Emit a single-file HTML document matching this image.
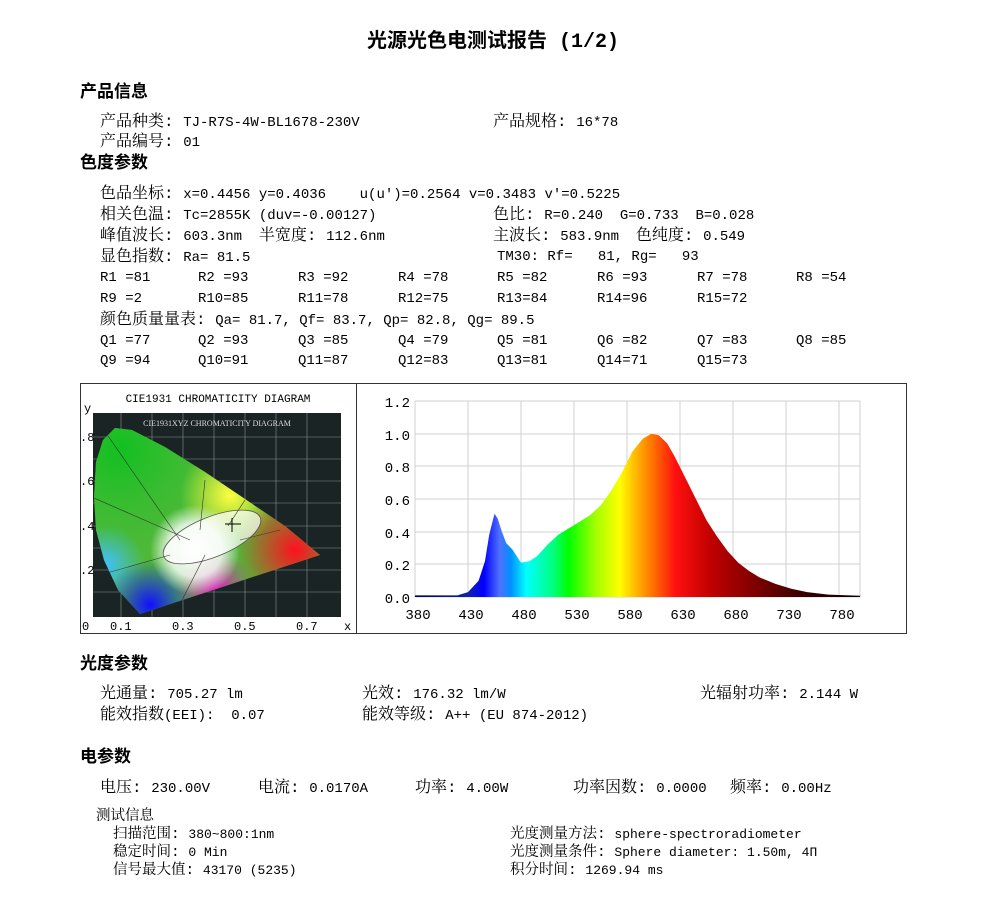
<!DOCTYPE html>
<html><head><meta charset="utf-8">
<style>
body{margin:0;background:#fff;width:986px;height:913px;position:relative;overflow:hidden;font-family:"Liberation Mono","Noto Serif CJK SC","Noto Sans CJK SC",monospace;font-size:14px;color:#000}
.t{position:absolute;white-space:pre;line-height:16px}
.t b{font-weight:normal;font-size:16px}
.h{position:absolute;white-space:pre;font-family:"Liberation Sans","Noto Sans CJK SC",sans-serif;font-weight:bold;font-size:17px;line-height:20px}
.s{font-size:13px}
.s b{font-size:14.5px}
</style></head><body>
<div class="h" style="left:0;width:986px;text-align:center;top:33px;font-size:20px;font-family:'Liberation Mono','Noto Sans CJK SC',monospace">光源光色电测试报告 (1/2)</div>

<div class="h" style="left:80px;top:82px">产品信息</div>
<div class="t" style="left:100px;top:114px"><b>产品种类: </b>TJ-R7S-4W-BL1678-230V</div>
<div class="t" style="left:493px;top:114px"><b>产品规格: </b>16*78</div>
<div class="t" style="left:100px;top:134px"><b>产品编号: </b>01</div>
<div class="h" style="left:80px;top:153px">色度参数</div>
<div class="t" style="left:100px;top:186px"><b>色品坐标: </b>x=0.4456 y=0.4036    u(u')=0.2564 v=0.3483 v'=0.5225</div>
<div class="t" style="left:100px;top:207px"><b>相关色温: </b>Tc=2855K (duv=-0.00127)</div>
<div class="t" style="left:493px;top:207px"><b>色比: </b>R=0.240  G=0.733  B=0.028</div>
<div class="t" style="left:100px;top:228px"><b>峰值波长: </b>603.3nm  <b>半宽度: </b>112.6nm</div>
<div class="t" style="left:493px;top:228px"><b>主波长: </b>583.9nm  <b>色纯度: </b>0.549</div>
<div class="t" style="left:100px;top:249px"><b>显色指数: </b>Ra= 81.5</div>
<div class="t" style="left:497px;top:249px">TM30: Rf=   81, Rg=   93</div>
<div class="t" style="left:100px;top:270px">R1 =81</div><div class="t" style="left:198px;top:270px">R2 =93</div><div class="t" style="left:298px;top:270px">R3 =92</div><div class="t" style="left:398px;top:270px">R4 =78</div><div class="t" style="left:497px;top:270px">R5 =82</div><div class="t" style="left:597px;top:270px">R6 =93</div><div class="t" style="left:697px;top:270px">R7 =78</div><div class="t" style="left:796px;top:270px">R8 =54</div>
<div class="t" style="left:100px;top:291px">R9 =2</div><div class="t" style="left:198px;top:291px">R10=85</div><div class="t" style="left:298px;top:291px">R11=78</div><div class="t" style="left:398px;top:291px">R12=75</div><div class="t" style="left:497px;top:291px">R13=84</div><div class="t" style="left:597px;top:291px">R14=96</div><div class="t" style="left:697px;top:291px">R15=72</div>
<div class="t" style="left:100px;top:312px"><b>颜色质量量表: </b>Qa= 81.7, Qf= 83.7, Qp= 82.8, Qg= 89.5</div>
<div class="t" style="left:100px;top:333px">Q1 =77</div><div class="t" style="left:198px;top:333px">Q2 =93</div><div class="t" style="left:298px;top:333px">Q3 =85</div><div class="t" style="left:398px;top:333px">Q4 =79</div><div class="t" style="left:497px;top:333px">Q5 =81</div><div class="t" style="left:597px;top:333px">Q6 =82</div><div class="t" style="left:697px;top:333px">Q7 =83</div><div class="t" style="left:796px;top:333px">Q8 =85</div>
<div class="t" style="left:100px;top:353px">Q9 =94</div><div class="t" style="left:198px;top:353px">Q10=91</div><div class="t" style="left:298px;top:353px">Q11=87</div><div class="t" style="left:398px;top:353px">Q12=83</div><div class="t" style="left:497px;top:353px">Q13=81</div><div class="t" style="left:597px;top:353px">Q14=71</div><div class="t" style="left:697px;top:353px">Q15=73</div>

<svg style="position:absolute;left:0;top:0" width="986" height="913" font-family="'Liberation Mono',monospace">
<defs>
<clipPath id="hs"><path d="M140,614 L118,590 L104,560 L96,530 L94,497 L96,462 L103,440 L115,428 L132,430 L165,447 L205,472 L245,499 L285,526 L320,555 Z"/></clipPath>
<radialGradient id="g1" cx="120" cy="450" r="110" gradientUnits="userSpaceOnUse"><stop offset="0" stop-color="#10c020"/><stop offset="1" stop-color="#30c030" stop-opacity="0"/></radialGradient>
<radialGradient id="gy" cx="230" cy="495" r="50" gradientUnits="userSpaceOnUse"><stop offset="0" stop-color="#ffff40"/><stop offset="1" stop-color="#ffff40" stop-opacity="0"/></radialGradient>
<radialGradient id="gr" cx="295" cy="550" r="60" gradientUnits="userSpaceOnUse"><stop offset="0" stop-color="#ff1020"/><stop offset="1" stop-color="#ff1020" stop-opacity="0"/></radialGradient>
<radialGradient id="gb" cx="150" cy="605" r="45" gradientUnits="userSpaceOnUse"><stop offset="0" stop-color="#1010ff"/><stop offset="1" stop-color="#1010ff" stop-opacity="0"/></radialGradient>
<radialGradient id="gc" cx="105" cy="565" r="40" gradientUnits="userSpaceOnUse"><stop offset="0" stop-color="#40c0ff"/><stop offset="1" stop-color="#40c0ff" stop-opacity="0"/></radialGradient>
<radialGradient id="gm" cx="215" cy="590" r="40" gradientUnits="userSpaceOnUse"><stop offset="0" stop-color="#e020c0"/><stop offset="1" stop-color="#e020c0" stop-opacity="0"/></radialGradient>
<radialGradient id="gw" cx="195" cy="550" r="45" gradientUnits="userSpaceOnUse"><stop offset="0" stop-color="#fff"/><stop offset="0.6" stop-color="#fff" stop-opacity="0.8"/><stop offset="1" stop-color="#fff" stop-opacity="0"/></radialGradient>
<linearGradient id="sp" x1="415" y1="0" x2="860" y2="0" gradientUnits="userSpaceOnUse">
<stop offset="0" stop-color="#000060"/><stop offset="0.12" stop-color="#1020b0"/><stop offset="0.155" stop-color="#0000ff"/><stop offset="0.19" stop-color="#5070ff"/><stop offset="0.215" stop-color="#0090ff"/><stop offset="0.25" stop-color="#00ffff"/><stop offset="0.31" stop-color="#00ff80"/><stop offset="0.345" stop-color="#00ff00"/><stop offset="0.405" stop-color="#a0ff00"/><stop offset="0.46" stop-color="#ffff00"/><stop offset="0.5" stop-color="#ffb000"/><stop offset="0.535" stop-color="#ff7000"/><stop offset="0.585" stop-color="#ff1010"/><stop offset="0.665" stop-color="#c00000"/><stop offset="0.76" stop-color="#800000"/><stop offset="0.88" stop-color="#300000"/><stop offset="1" stop-color="#100000"/></linearGradient>
</defs>
<rect x="80.5" y="383.5" width="826" height="250" fill="none" stroke="#333"/>
<line x1="356.5" y1="383" x2="356.5" y2="634" stroke="#333"/>
<text x="218" y="402" font-size="11" text-anchor="middle">CIE1931 CHROMATICITY DIAGRAM</text>
<rect x="93" y="413" width="248" height="204" fill="#1a2424"/>
<g stroke="#8a9090" stroke-width="0.6">
<line x1="121" y1="413" x2="121" y2="617"/><line x1="152" y1="413" x2="152" y2="617"/><line x1="183" y1="413" x2="183" y2="617"/><line x1="214" y1="413" x2="214" y2="617"/><line x1="245" y1="413" x2="245" y2="617"/><line x1="276" y1="413" x2="276" y2="617"/><line x1="307" y1="413" x2="307" y2="617"/>
<line x1="93" y1="437" x2="341" y2="437"/><line x1="93" y1="459" x2="341" y2="459"/><line x1="93" y1="481" x2="341" y2="481"/><line x1="93" y1="503" x2="341" y2="503"/><line x1="93" y1="526" x2="341" y2="526"/><line x1="93" y1="548" x2="341" y2="548"/><line x1="93" y1="570" x2="341" y2="570"/><line x1="93" y1="592" x2="341" y2="592"/>
</g>
<text x="217" y="426" font-size="8" fill="#ddd" text-anchor="middle" font-family="'Liberation Serif',serif">CIE1931XYZ CHROMATICITY DIAGRAM</text>
<g clip-path="url(#hs)">
<rect x="90" y="420" width="240" height="200" fill="#50b838"/>
<rect x="90" y="420" width="240" height="200" fill="url(#g1)"/>
<rect x="90" y="420" width="240" height="200" fill="url(#gc)"/>
<rect x="90" y="420" width="240" height="200" fill="url(#gy)"/>
<rect x="90" y="420" width="240" height="200" fill="url(#gr)"/>
<rect x="90" y="420" width="240" height="200" fill="url(#gm)"/>
<rect x="90" y="420" width="240" height="200" fill="url(#gb)"/>
<rect x="90" y="420" width="240" height="200" fill="url(#gw)"/>
<ellipse cx="212" cy="537" rx="52" ry="20" transform="rotate(-22 212 537)" fill="#fff" fill-opacity="0.7" stroke="#555" stroke-width="0.8"/>
<g stroke="#333" stroke-width="0.6" fill="none"><path d="M106,433 L180,540"/><path d="M94,498 L190,540"/><path d="M100,575 L170,555"/><path d="M205,480 L200,530"/><path d="M245,500 L228,526"/><path d="M175,614 L205,555"/><path d="M280,530 L240,540"/></g>
</g>
<line x1="232" y1="518" x2="232" y2="532" stroke="#000"/><line x1="225" y1="524" x2="241" y2="524" stroke="#000"/>
<g font-size="12"><text x="84" y="412">y</text><text x="80" y="441">.8</text><text x="80" y="485">.6</text><text x="80" y="530">.4</text><text x="80" y="574">.2</text>
<text x="82" y="630">0</text><text x="110" y="630">0.1</text><text x="172" y="630">0.3</text><text x="234" y="630">0.5</text><text x="296" y="630">0.7</text><text x="344" y="630">x</text></g>

<g stroke="#d0d0d0" stroke-width="1">
<line x1="415" y1="401" x2="860" y2="401"/><line x1="415" y1="434" x2="860" y2="434"/><line x1="415" y1="466" x2="860" y2="466"/><line x1="415" y1="499" x2="860" y2="499"/><line x1="415" y1="532" x2="860" y2="532"/><line x1="415" y1="564" x2="860" y2="564"/><line x1="415" y1="597" x2="860" y2="597"/>
<line x1="415" y1="401" x2="415" y2="597"/><line x1="468" y1="401" x2="468" y2="597"/><line x1="521" y1="401" x2="521" y2="597"/><line x1="574" y1="401" x2="574" y2="597"/><line x1="627" y1="401" x2="627" y2="597"/><line x1="680" y1="401" x2="680" y2="597"/><line x1="733" y1="401" x2="733" y2="597"/><line x1="786" y1="401" x2="786" y2="597"/><line x1="839" y1="401" x2="839" y2="597"/><line x1="860" y1="401" x2="860" y2="597"/>
</g>
<path id="curve" fill="url(#sp)" d=""/>
<g font-size="14" text-anchor="end"><text x="410" y="407">1.2</text><text x="410" y="440">1.0</text><text x="410" y="472">0.8</text><text x="410" y="505">0.6</text><text x="410" y="538">0.4</text><text x="410" y="570">0.2</text><text x="410" y="603">0.0</text></g>
<g font-size="14" text-anchor="middle"><text x="418" y="619">380</text><text x="471" y="619">430</text><text x="524" y="619">480</text><text x="577" y="619">530</text><text x="630" y="619">580</text><text x="683" y="619">630</text><text x="736" y="619">680</text><text x="789" y="619">730</text><text x="842" y="619">780</text></g>
</svg>
<script>
var p=[[380,.01],[420,.01],[430,.03],[440,.1],[446,.22],[450,.38],[455,.51],[458,.48],[462,.4],[466,.33],[472,.29],[480,.21],[488,.22],[495,.25],[505,.32],[515,.38],[525,.42],[535,.46],[545,.5],[555,.56],[565,.65],[575,.76],[585,.89],[595,.97],[603,1.0],[610,.99],[618,.94],[625,.86],[635,.73],[645,.6],[655,.47],[665,.37],[675,.28],[685,.21],[695,.16],[705,.12],[720,.08],[735,.05],[750,.03],[770,.015],[800,.008]];
var d="M415,597";p.forEach(function(q){d+=" L"+(415+(q[0]-380)*1.06).toFixed(1)+","+(597-q[1]*163.3).toFixed(1)});d+=" L860,597 Z";
document.getElementById("curve").setAttribute("d",d);
</script>

<div class="h" style="left:80px;top:654px">光度参数</div>
<div class="t" style="left:100px;top:686px"><b>光通量: </b>705.27 lm</div>
<div class="t" style="left:362px;top:686px"><b>光效: </b>176.32 lm/W</div>
<div class="t" style="left:700px;top:686px"><b>光辐射功率: </b>2.144 W</div>
<div class="t" style="left:100px;top:707px"><b>能效指数</b>(EEI):  0.07</div>
<div class="t" style="left:362px;top:707px"><b>能效等级: </b>A++ (EU 874-2012)</div>
<div class="h" style="left:80px;top:747px">电参数</div>
<div class="t" style="left:100px;top:780px"><b>电压: </b>230.00V</div>
<div class="t" style="left:258px;top:780px"><b>电流: </b>0.0170A</div>
<div class="t" style="left:415px;top:780px"><b>功率: </b>4.00W</div>
<div class="t" style="left:573px;top:780px"><b>功率因数: </b>0.0000</div>
<div class="t" style="left:730px;top:780px"><b>频率: </b>0.00Hz</div>
<div class="t s" style="left:96px;top:809px"><b>测试信息</b></div>
<div class="t s" style="left:113px;top:827px"><b>扫描范围: </b>380~800:1nm</div>
<div class="t s" style="left:113px;top:845px"><b>稳定时间: </b>0 Min</div>
<div class="t s" style="left:113px;top:863px"><b>信号最大值: </b>43170 (5235)</div>
<div class="t s" style="left:510px;top:827px"><b>光度测量方法: </b>sphere-spectroradiometer</div>
<div class="t s" style="left:510px;top:845px"><b>光度测量条件: </b>Sphere diameter: 1.50m, 4Π</div>
<div class="t s" style="left:510px;top:863px"><b>积分时间: </b>1269.94 ms</div>
</body></html>
